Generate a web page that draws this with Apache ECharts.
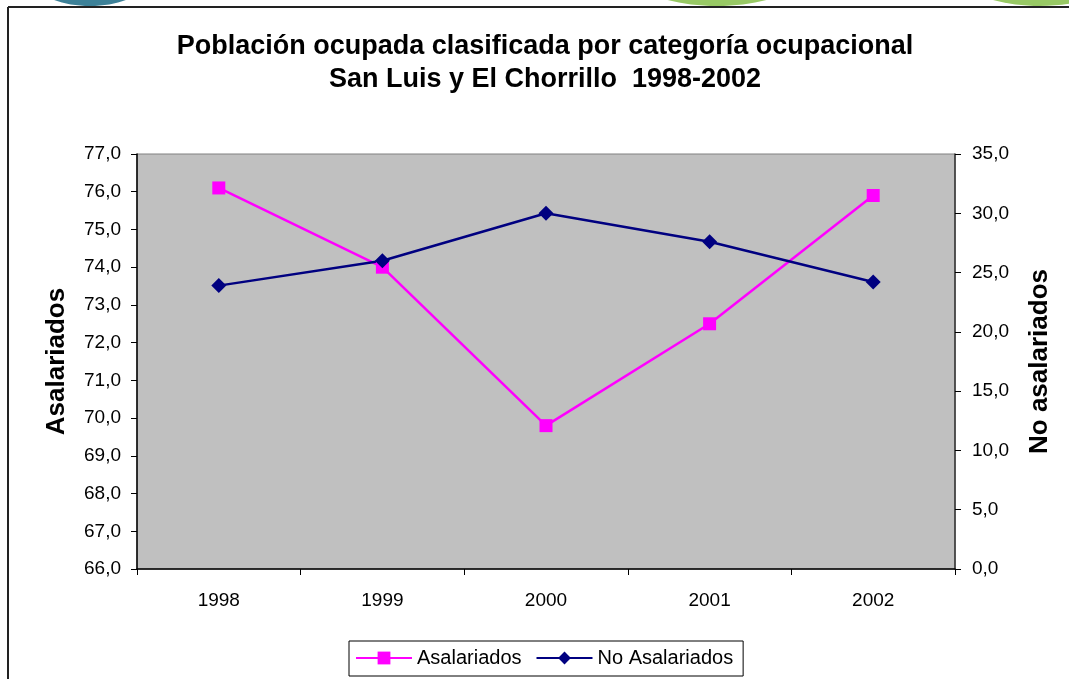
<!DOCTYPE html>
<html>
<head>
<meta charset="utf-8">
<script src="https://cdn.jsdelivr.net/npm/echarts@6/dist/echarts.min.js"></script>
<style>
html,body{margin:0;padding:0;background:#fff;}
#chart{width:1069px;height:679px;}
</style>
</head>
<body>
<div id="chart"></div>
<script>
const categories = ['1998', '1999', '2000', '2001', '2002'];
const asalariados = [76.1, 74.0, 69.8, 72.5, 75.9];
const noAsalariados = [23.9, 26.0, 30.0, 27.6, 24.2];
const titleLines = ['Población ocupada clasificada por categoría ocupacional', 'San Luis y El Chorrillo  1998-2002'];

const fmt = v => v.toFixed(1).replace('.', ',');
const font = '"Liberation Sans", Arial, sans-serif';

const chart = echarts.init(document.getElementById('chart'), null, {renderer: 'canvas'});
chart.setOption({
  backgroundColor: '#fff',
  animation: false,
  textStyle: {fontFamily: font, color: '#000'},
  graphic: [
    {type: 'ellipse', shape: {cx: 90, cy: -22, rx: 58, ry: 28}, style: {fill: '#3d8198'}, z: 0},
    {type: 'ellipse', shape: {cx: 717, cy: -40, rx: 100, ry: 46}, style: {fill: '#98c965'}, z: 0},
    {type: 'ellipse', shape: {cx: 1040, cy: -40, rx: 95, ry: 46}, style: {fill: '#98c965'}, z: 0},
    {type: 'line', shape: {x1: 8, y1: 7, x2: 1069, y2: 7}, style: {stroke: '#222', lineWidth: 2}, z: 5},
    {type: 'line', shape: {x1: 8, y1: 7, x2: 8, y2: 679}, style: {stroke: '#222', lineWidth: 2}, z: 5},
    {type: 'text', x: 545, top: 30, style: {text: titleLines.join('\n'), font: 'bold 27px ' + font, fill: '#000', textAlign: 'center', lineHeight: 33}}
  ],
  legend: {
    top: 641,
    left: 349,
    data: ['Asalariados', 'No Asalariados'],
    borderColor: '#000',
    borderWidth: 1,
    padding: [7, 10, 8, 6],
    itemGap: 14,
    itemWidth: 56,
    itemHeight: 16,
    textStyle: {fontFamily: font, fontSize: 20, color: '#000', padding: [0, 0, 0, 0]}
  },
  grid: {
    left: 137, right: 114, top: 154, bottom: 110,
    show: true, backgroundColor: '#C0C0C0', borderColor: '#808080', borderWidth: 1
  },
  xAxis: {
    type: 'category',
    data: categories,
    boundaryGap: true,
    axisLine: {lineStyle: {color: '#000', width: 1.5}},
    axisTick: {show: true, length: 6, inside: false, lineStyle: {color: '#000'}},
    axisLabel: {fontSize: 19, color: '#000', margin: 22, fontFamily: font},
    splitLine: {show: false}
  },
  yAxis: [
    {
      type: 'value', min: 66, max: 77, interval: 1, position: 'left',
      name: 'Asalariados', nameLocation: 'middle', nameGap: 67, nameRotate: 90,
      nameTextStyle: {fontSize: 26, fontWeight: 'bold', color: '#000', fontFamily: font},
      axisLine: {show: true, lineStyle: {color: '#000', width: 1.5}},
      axisTick: {show: true, length: 6, lineStyle: {color: '#000'}},
      axisLabel: {fontSize: 19, color: '#000', margin: 16, formatter: fmt, fontFamily: font},
      splitLine: {show: false}
    },
    {
      type: 'value', min: 0, max: 35, interval: 5, position: 'right',
      name: 'No asalariados', nameLocation: 'middle', nameGap: 72, nameRotate: 90,
      nameTextStyle: {fontSize: 26, fontWeight: 'bold', color: '#000', fontFamily: font},
      axisLine: {show: true, lineStyle: {color: '#333', width: 1.5}},
      axisTick: {show: true, length: 6, lineStyle: {color: '#000'}},
      axisLabel: {fontSize: 19, color: '#000', margin: 17, formatter: fmt, fontFamily: font},
      splitLine: {show: false}
    }
  ],
  series: [
    {
      name: 'Asalariados', type: 'line', yAxisIndex: 0, data: asalariados,
      symbol: 'rect', symbolSize: 13,
      lineStyle: {color: '#FF00FF', width: 2.5},
      itemStyle: {color: '#FF00FF'}
    },
    {
      name: 'No Asalariados', type: 'line', yAxisIndex: 1, data: noAsalariados,
      symbol: 'diamond', symbolSize: [15, 15],
      lineStyle: {color: '#000080', width: 2.5},
      itemStyle: {color: '#000080'}
    }
  ]
});
</script>
</body>
</html>
